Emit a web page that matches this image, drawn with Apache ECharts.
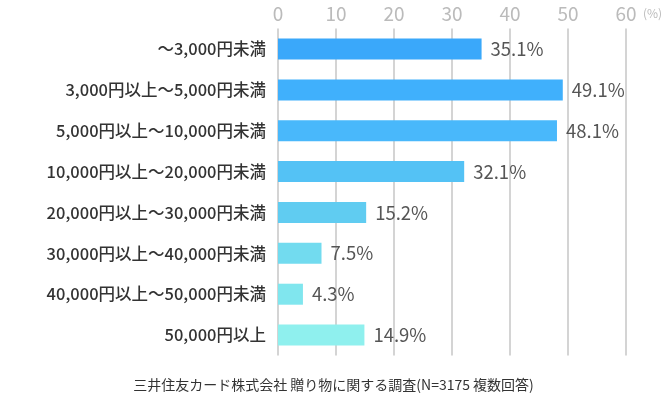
<!DOCTYPE html><html><head><meta charset="utf-8"><script src="https://cdn.jsdelivr.net/npm/echarts@6/dist/echarts.min.js"></script></head><body style="margin:0"><div id="c" style="width:667px;height:405px"></div><script>
const categories=["～3,000円未満","3,000円以上～5,000円未満","5,000円以上～10,000円未満","10,000円以上～20,000円未満","20,000円以上～30,000円未満","30,000円以上～40,000円未満","40,000円以上～50,000円未満","50,000円以上"];
const values=[35.1,49.1,48.1,32.1,15.2,7.5,4.3,14.9];
const colors=["#3aa8fa","#40b0fc","#49b8fb","#54c2f5","#60ccf1","#72dbef","#80e6ee","#8ff0ee"];
const F="'Noto Sans CJK JP','Noto Sans',sans-serif";
const ch=echarts.init(document.getElementById('c'));
ch.setOption({
 grid:{left:278,right:41,top:28.6,bottom:49.5},
 xAxis:{type:'value',position:'top',min:0,max:60,interval:10,
  axisLine:{show:false},axisTick:{show:false},
  axisLabel:{color:'#bbb',fontSize:19,fontFamily:F,margin:5},
  splitLine:{lineStyle:{color:'#d4d4d4',width:2}}},
 yAxis:{type:'category',inverse:true,data:categories,
  axisLine:{show:false},axisTick:{show:false},
  axisLabel:{color:'#333',fontSize:16.5,fontWeight:500,fontFamily:F,margin:12}},
 series:[{type:'bar',barWidth:21,data:values.map((v,i)=>({value:v,itemStyle:{color:colors[i]}})),
  label:{show:true,position:'right',distance:9,formatter:p=>p.value.toFixed(1)+'%',color:'#555',fontSize:18.5,fontFamily:F}}],
 graphic:[
  {type:'text',left:643,top:7,style:{text:'(%)',fill:'#bbb',font:'12px '+F}},
  {type:'text',left:'center',top:378,style:{text:'三井住友カード株式会社 贈り物に関する調査(N=3175 複数回答)',fill:'#333',font:'14px '+F}}]
});
</script></body></html>
